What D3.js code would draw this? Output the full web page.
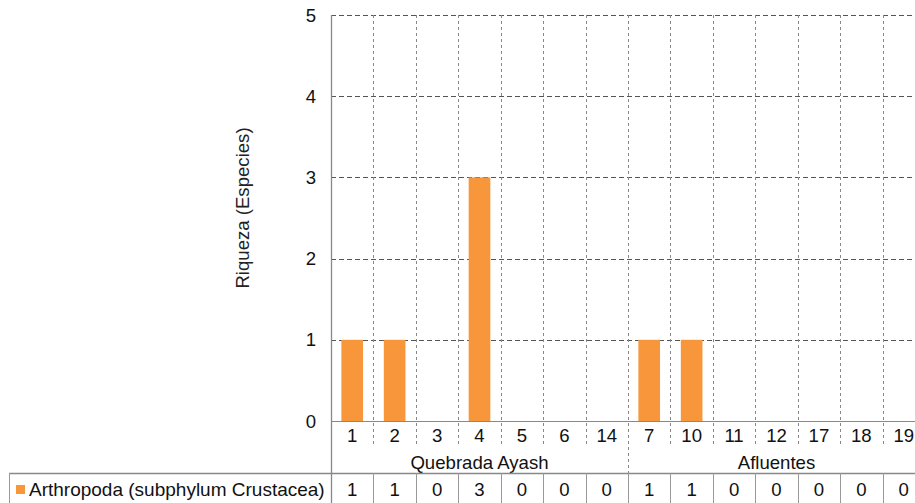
<!DOCTYPE html>
<html><head><meta charset="utf-8">
<script src="https://cdn.jsdelivr.net/npm/d3@7"></script>
<style>
html,body{margin:0;padding:0;background:#fff;}
svg{display:block;font-family:"Liberation Sans",Arial,sans-serif;}
</style></head>
<body>
<svg id="c" width="915" height="503"></svg>
<script>
const categories = ["1","2","3","4","5","6","14","7","10","11","12","17","18","19"];
const groups = ["Quebrada Ayash","Quebrada Ayash","Quebrada Ayash","Quebrada Ayash","Quebrada Ayash","Quebrada Ayash","Quebrada Ayash",
                "Afluentes","Afluentes","Afluentes","Afluentes","Afluentes","Afluentes","Afluentes"];
const groupNames = ["Quebrada Ayash","Afluentes"];
const values = [1,1,0,3,0,0,0,1,1,0,0,0,0,0];
const seriesName = "Arthropoda (subphylum Crustacea)";
const yTicks = [0,1,2,3,4,5];
const yLabel = "Riqueza (Especies)";

(function(){
const svg = d3.select("#c");
const pL = 331, pR = 925, pT = 15, base = 421;
const catRowBottom = 447, tableTop = 473, pB = 503, legendLeft = 9;
const barColor = "#f7963a";
const fs = 18.6;

const x = d3.scaleBand().domain(categories).range([pL, pR]).padding(0);
const y = d3.scaleLinear().domain([0,5]).range([base, pT]);
const bw = x.bandwidth();
const barW = bw * 0.51;

// horizontal gridlines
svg.append("g").selectAll("line").data(yTicks.filter(d=>d>0)).join("line")
  .attr("x1", pL).attr("x2", pR)
  .attr("y1", d=>Math.round(y(d))+0.5).attr("y2", d=>Math.round(y(d))+0.5)
  .attr("stroke", "#555").attr("stroke-width", 1).attr("stroke-dasharray", "5,3");

// vertical dashed dividers (category boundaries)
svg.append("g").selectAll("line").data(categories.slice(1)).join("line")
  .attr("x1", d=>Math.round(x(d))+0.5).attr("x2", d=>Math.round(x(d))+0.5)
  .attr("y1", pT).attr("y2", d=> {
      const i = categories.indexOf(d);
      return groups[i] !== groups[i-1] ? tableTop : catRowBottom; })
  .attr("stroke", "#888").attr("stroke-width", 1).attr("stroke-dasharray", "3,3");

// bars
svg.append("g").selectAll("rect").data(values).join("rect")
  .attr("x", (d,i)=> x(categories[i]) + (bw - barW)/2)
  .attr("width", barW)
  .attr("y", d=>y(d))
  .attr("height", d=> base - y(d))
  .attr("fill", barColor);

// x-axis baseline
svg.append("line").attr("x1", pL).attr("x2", pR).attr("y1", base+0.5).attr("y2", base+0.5)
  .attr("stroke", "#888").attr("stroke-width", 1.2);
// y axis line
svg.append("line").attr("x1", pL+0.5).attr("x2", pL+0.5).attr("y1", pT).attr("y2", pB)
  .attr("stroke", "#888").attr("stroke-width", 1.3);

// y tick labels
svg.append("g").selectAll("text").data(yTicks).join("text")
  .attr("x", pL - 15).attr("y", d=>y(d)).attr("dy", "0.35em")
  .attr("text-anchor", "end").attr("font-size", fs).attr("fill", "#111")
  .text(d=>d);

// y label
svg.append("text").attr("transform", `translate(249,${(pT+base)/2 - 10}) rotate(-90)`)
  .attr("text-anchor", "middle").attr("font-size", fs).attr("fill", "#222")
  .text(yLabel);

// category labels
svg.append("g").selectAll("text").data(categories).join("text")
  .attr("x", d=>x(d)+bw/2).attr("y", 435).attr("dy", "0.35em")
  .attr("text-anchor", "middle").attr("font-size", fs).attr("fill", "#111")
  .text(d=>d);

// group labels
groupNames.forEach(g => {
  const cs = categories.filter((c,i)=>groups[i]===g);
  svg.append("text").attr("x", (x(cs[0]) + x(cs[cs.length-1]) + bw)/2).attr("y", 462).attr("dy","0.35em")
    .attr("text-anchor","middle").attr("font-size",fs).attr("fill","#111").text(g);
});

// table top line
svg.append("line").attr("x1", legendLeft).attr("x2", pR).attr("y1", tableTop+0.5).attr("y2", tableTop+0.5)
  .attr("stroke", "#888").attr("stroke-width", 1.3);
// legend cell left border
svg.append("line").attr("x1", legendLeft+0.5).attr("x2", legendLeft+0.5).attr("y1", tableTop).attr("y2", pB)
  .attr("stroke", "#999").attr("stroke-width", 1);
// table row dividers
svg.append("g").selectAll("line").data(categories.slice(1)).join("line")
  .attr("x1", d=>Math.round(x(d))+0.5).attr("x2", d=>Math.round(x(d))+0.5)
  .attr("y1", tableTop).attr("y2", pB)
  .attr("stroke", "#999").attr("stroke-width", 1);

// legend key
svg.append("rect").attr("x", 16).attr("y", 485).attr("width", 9).attr("height", 9).attr("fill", barColor);
svg.append("text").attr("x", 29).attr("y", 489).attr("dy","0.35em")
  .attr("font-size", 19).attr("fill", "#111").text(seriesName);

// table values
svg.append("g").selectAll("text").data(values).join("text")
  .attr("x", (d,i)=>x(categories[i])+bw/2).attr("y", 489).attr("dy","0.35em")
  .attr("text-anchor","middle").attr("font-size",fs).attr("fill","#111")
  .text(d=>d);
})();
</script>
</body></html>
